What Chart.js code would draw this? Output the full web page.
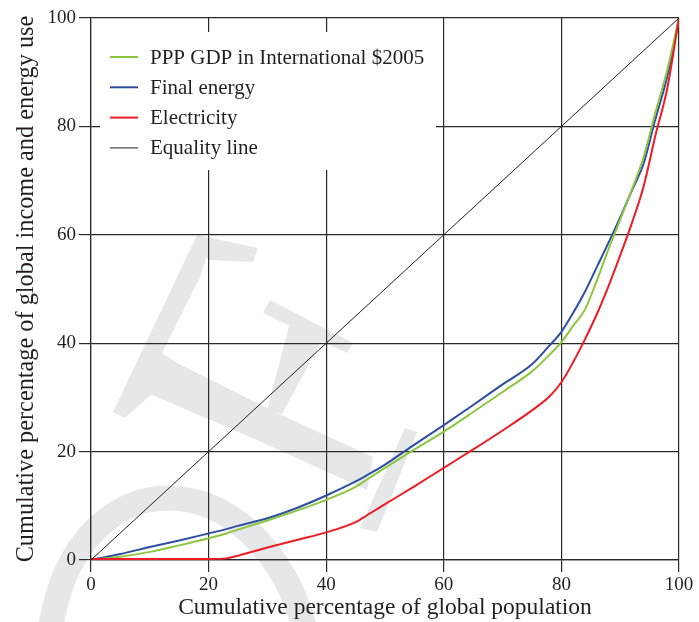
<!DOCTYPE html>
<html>
<head>
    <title>Cumulative income and energy use</title>
    <script src="https://cdn.jsdelivr.net/npm/chart.js"></script>
    <style>
        body { margin: 0; background: #fff; }
    </style>
</head>
<body>
    <canvas id="lorenzChart" width="699" height="622"></canvas>
    <script>
        // cumulative share of population (x) and of income / energy (y), in %
        const popShare = [0, 5, 10, 15, 20, 23, 25, 30, 35, 40, 45, 47, 50, 55, 60, 65, 70, 75, 78, 80, 82, 84, 86, 88, 90, 92, 94, 96, 98, 100];
        const gdp = [0, 0.6, 1.5, 2.7, 4.0, 4.9, 5.6, 7.3, 9.1, 11.1, 13.5, 14.9, 17.0, 20.4, 23.7, 27.3, 31.0, 34.8, 37.9, 40.2, 43.2, 46.2, 51.5, 57.3, 62.8, 68.4, 74.4, 82.6, 90.4, 100];
        const finalEnergy = [0, 1.1, 2.4, 3.6, 4.9, 5.7, 6.3, 7.7, 9.6, 11.9, 14.5, 15.7, 17.6, 21.3, 24.9, 28.6, 32.4, 36.1, 39.6, 42.1, 45.6, 49.5, 54.0, 58.5, 63.2, 68.2, 73.2, 81.4, 89.2, 100];
        const electricity = [0.2, 0.2, 0.2, 0.2, 0.2, 0.3, 0.8, 2.3, 3.7, 5.1, 7.0, 8.3, 10.3, 13.6, 17.0, 20.4, 23.9, 27.6, 30.2, 32.8, 36.5, 40.7, 45.3, 50.5, 56.2, 62.2, 69.0, 78.4, 87.0, 100];
        const equalityX = [0, 100];
        const equalityY = [0, 100];
        const tickValues = [0, 20, 40, 60, 80, 100];

        const seriesNames = ['PPP GDP in International $2005', 'Final energy', 'Electricity', 'Equality line'];
        const seriesColors = ['#8cc63f', '#2e4ea1', '#ed1c24', '#231f20'];

        const serif = '"Liberation Serif", "Times New Roman", serif';
        const textColor = '#231f20';

        function pairs(xs, ys) {
            return xs.map((x, i) => ({ x: x, y: ys[i] }));
        }

        // faint grey watermark behind the grid
        const watermark = {
            id: 'watermark',
            beforeDraw(chart) {
                const c = chart.ctx;
                c.save();
                c.fillStyle = '#e6e7e9';
                c.strokeStyle = '#e6e7e9';
                const polys = [
                    [[197, 235], [212, 240], [200, 277], [162, 353], [153, 393], [125, 418], [113, 412]],
                    [[197, 235], [258, 248], [253, 262], [208, 260]],
                    [[162, 353], [177, 363], [277, 413], [373, 457], [367, 490], [323, 470], [257, 440], [150, 394]],
                    [[405, 428], [417, 432], [377, 532], [360, 528]],
                    [[270, 300], [353, 343], [347, 353], [263, 313]],
                    [[290, 322], [322, 340], [282, 414], [267, 410]]
                ];
                polys.forEach(p => {
                    c.beginPath();
                    c.moveTo(p[0][0], p[0][1]);
                    p.slice(1).forEach(pt => c.lineTo(pt[0], pt[1]));
                    c.closePath();
                    c.fill();
                });
                c.lineWidth = 25;
                c.beginPath();
                c.moveTo(50, 632);
                c.bezierCurveTo(75, 452, 258, 455, 306, 632);
                c.stroke();
                c.restore();
            }
        };

        // legend box drawn inside the plot, over the grid
        const boxLegend = {
            id: 'boxLegend',
            beforeDatasetsDraw(chart) {
                const c = chart.ctx;
                c.save();
                c.fillStyle = '#fff';
                c.fillRect(100, 32, 336, 138);
                c.font = '21px ' + serif;
                c.textBaseline = 'middle';
                c.textAlign = 'left';
                seriesNames.forEach((name, i) => {
                    const y = 57 + i * 30.3;
                    c.strokeStyle = seriesColors[i];
                    c.lineWidth = i === 3 ? 1 : 2;
                    c.beginPath();
                    c.moveTo(110, y);
                    c.lineTo(138, y);
                    c.stroke();
                    c.fillStyle = textColor;
                    c.fillText(name, 150, y + 1);
                });
                c.restore();
            }
        };

        const lineStyle = (label, data, color, width) => ({
            label: label,
            data: data,
            borderColor: color,
            backgroundColor: color,
            borderWidth: width,
            pointRadius: 0,
            fill: false,
            cubicInterpolationMode: 'monotone'
        });

        const ctx = document.getElementById('lorenzChart').getContext('2d');
        new Chart(ctx, {
            type: 'line',
            data: {
                datasets: [
                    lineStyle(seriesNames[3], pairs(equalityX, equalityY), seriesColors[3], 1),
                    lineStyle(seriesNames[2], pairs(popShare, electricity), seriesColors[2], 2),
                    lineStyle(seriesNames[0], pairs(popShare, gdp), seriesColors[0], 2),
                    lineStyle(seriesNames[1], pairs(popShare, finalEnergy), seriesColors[1], 2)
                ]
            },
            options: {
                responsive: false,
                animation: false,
                layout: { padding: { top: 18, right: 20, left: 0, bottom: 0 } },
                plugins: {
                    legend: { display: false },
                    tooltip: { enabled: false }
                },
                scales: {
                    x: {
                        type: 'linear',
                        min: 0,
                        max: 100,
                        afterBuildTicks: s => { s.ticks = tickValues.map(v => ({ value: v })); },
                        afterFit: s => { s.height = 62; },
                        grid: { color: '#2a2a2a', lineWidth: 1.2, tickLength: 12 },
                        border: { color: '#2a2a2a', width: 1.2 },
                        ticks: { color: textColor, font: { family: serif, size: 19 }, padding: 2, maxRotation: 0 },
                        title: {
                            display: true,
                            text: 'Cumulative percentage of global population',
                            color: textColor,
                            font: { family: serif, size: 23.5 },
                            padding: { top: 0, bottom: 0 }
                        }
                    },
                    y: {
                        type: 'linear',
                        min: 0,
                        max: 100,
                        afterBuildTicks: s => { s.ticks = tickValues.map(v => ({ value: v })); },
                        afterFit: s => { s.width = 91; },
                        grid: { color: '#2a2a2a', lineWidth: 1.2, tickLength: 12 },
                        border: { color: '#2a2a2a', width: 1.2 },
                        ticks: { color: textColor, font: { family: serif, size: 19 }, padding: 3 },
                        title: {
                            display: true,
                            text: 'Cumulative percentage of global income and energy use',
                            color: textColor,
                            font: { family: serif, size: 24.3 },
                            padding: { top: 12, bottom: 0 }
                        }
                    }
                }
            },
            plugins: [watermark, boxLegend]
        });
    </script>
</body>
</html>
